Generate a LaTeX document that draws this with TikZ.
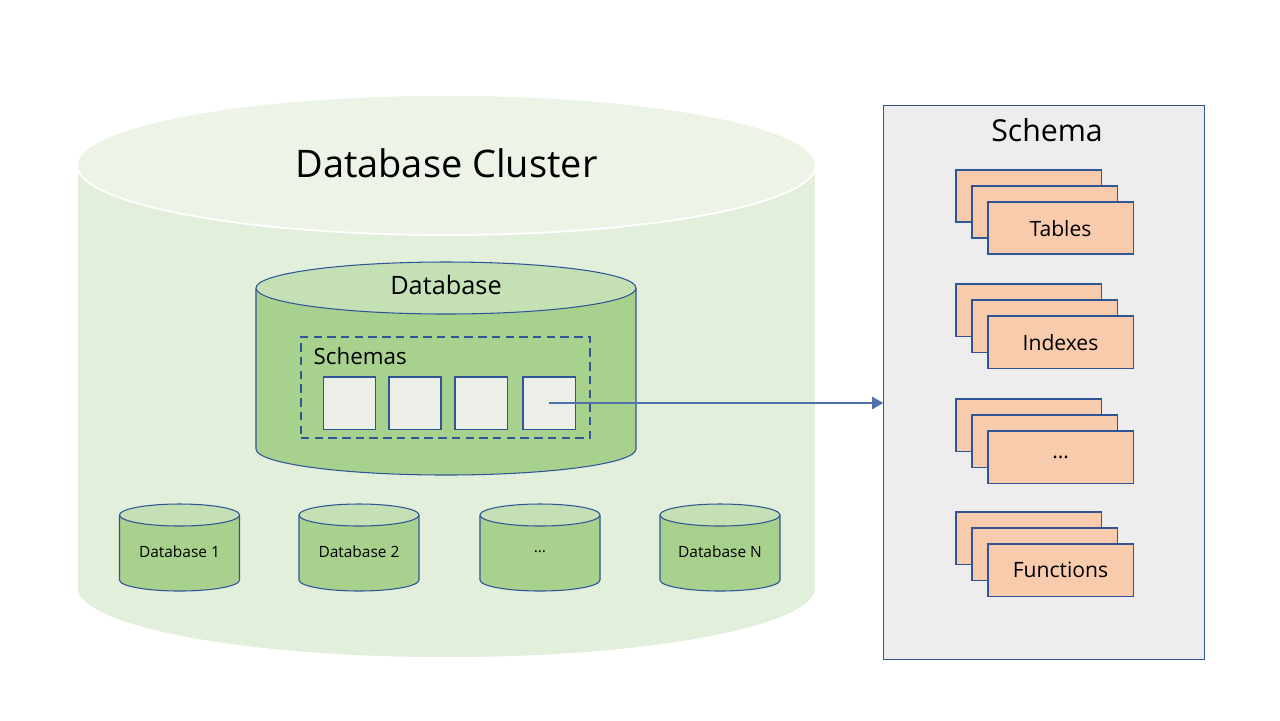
\documentclass[tikz,border=0pt]{standalone}
\usepackage{fontspec}
\setmainfont{Open Sans}
\usetikzlibrary{arrows.meta}
\definecolor{clusterbody}{HTML}{E2EFDA}
\definecolor{clustertop}{HTML}{EBF4E6}
\definecolor{dbbody}{HTML}{A9D18E}
\definecolor{dbtop}{HTML}{C5E0B4}
\definecolor{edge}{HTML}{2F5597}
\definecolor{arrowblue}{HTML}{4F72AA}
\definecolor{slot}{HTML}{ECEEE8}
\definecolor{panelgray}{HTML}{EDEDED}
\definecolor{card}{HTML}{F8CBAD}

% cylinder: x, y of top centre, y of bottom centre, x radius, y radius, body, top, line
\newcommand{\cyl}[8]{%
  \fill[#6] (#1-#4,#2) -- (#1-#4,#3) arc[start angle=180,end angle=360,x radius=#4,y radius=#5] -- (#1+#4,#2) -- cycle;
  \draw[#8] (#1-#4,#2) -- (#1-#4,#3) arc[start angle=180,end angle=360,x radius=#4,y radius=#5] -- (#1+#4,#2);
  \filldraw[fill=#7,#8] (#1,#2) ellipse [x radius=#4,y radius=#5];
}

\tikzset{
  edgeline/.style={draw=edge,line width=0.3pt},
  slotbox/.style={edgeline,fill=slot,minimum width=0.52cm,minimum height=0.52cm,inner sep=0pt},
  cardbox/.style={edgeline,fill=card,minimum width=1.45cm,minimum height=0.52cm,inner sep=0pt,font=\fontsize{6}{7}\selectfont},
  dblabel/.style={font=\fontsize{4.4}{5}\selectfont},
}

\begin{document}
\begin{tikzpicture}[x=0.01cm,y=0.01cm]
    \useasboundingbox (0,0) rectangle (1280,720);

    % cluster
    \cyl{446.5}{555}{132}{369.5}{70}{clusterbody}{clustertop}{draw=white,line width=0.5pt}
    \node[font=\fontsize{10.8}{13}\selectfont] (cluster) at (446.5,557) {Database Cluster};

    % database with schemas
    \cyl{446}{432}{271}{190}{26}{dbbody}{dbtop}{edgeline}
    \node[font=\fontsize{7.2}{9}\selectfont] (db) at (446,435) {Database};
    \node[draw=edge,dash pattern=on 2.4pt off 1.5pt,line width=0.6pt,minimum width=2.89cm,minimum height=1.01cm,inner sep=0pt] (schemas) at (445.5,332.5) {};
    \node[anchor=west,inner sep=0pt,font=\fontsize{6.35}{8}\selectfont] (schemaslbl) at (313,364) {Schemas};
    \foreach \i/\x in {1/349.5,2/415,3/481,4/549}
        \node[slotbox] (s\i) at (\x,317) {};

    % small databases
    \foreach \i/\x/\txt in {1/179.5/Database 1,2/359/Database 2,3/540/\ldots,4/720/Database N}{
        \cyl{\x}{205}{140}{60}{11}{dbbody}{dbtop}{edgeline}
        \node[dblabel] (db\i) at (\x,168) {\txt};
    }

    % schema panel
    \node[edgeline,fill=panelgray,minimum width=3.2cm,minimum height=5.53cm,inner sep=0pt] (panel) at (1044,337.5) {};
    \node[font=\fontsize{8.6}{10}\selectfont] (paneltitle) at (1047,590) {Schema};
    \foreach \n/\y/\txt in {tab/490/Tables,idx/376/Indexes,etc/261/\ldots,fun/148/Functions}{
        \node[cardbox] (\n3) at (1028.5,\y+34) {};
        \node[cardbox] (\n2) at (1044.5,\y+18) {};
        \node[cardbox,text depth=0pt] (\n1) at (1060.5,\y+2) {\txt};
    }

    \draw[arrowblue,line width=0.8pt,-{Triangle[length=3.2pt,width=3.4pt]}] (s4.center) -- (s4.center -| panel.west);
\end{tikzpicture}
\end{document}
